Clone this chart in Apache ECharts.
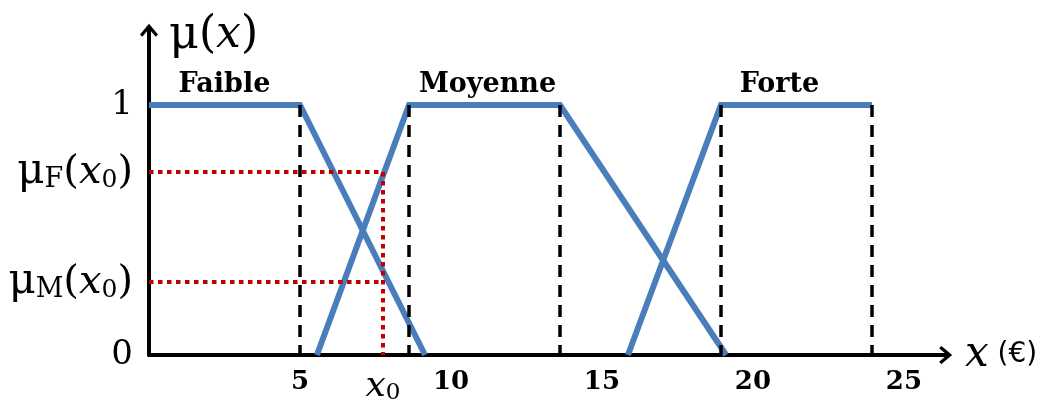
<!DOCTYPE html>
<html>
<head>
<meta charset="utf-8">
<script src="https://cdn.jsdelivr.net/npm/echarts@6/dist/echarts.min.js"></script>
<style>
html, body { margin: 0; padding: 0; background: #fff; }
#main { width: 1054px; height: 401px; }
</style>
</head>
<body>
<div id="main"></div>
<script>
var faibleX = [0, 5, 9.14];
var faibleY = [1, 1, 0];
var moyenneX = [5.56, 8.61, 13.61, 19.11];
var moyenneY = [0, 1, 1, 0];
var forteX = [15.86, 18.94, 23.94];
var forteY = [0, 1, 1];
var setNames = ['Faible', 'Moyenne', 'Forte'];
var dashX = [5, 8.61, 13.61, 18.94, 23.94];
var x0 = 7.75;
var muF = 0.732;
var muM = 0.292;
var xTicks = [5, 10, 15, 20, 25];
var yTicks = [0, muM, muF, 1];
var ySubs = ['', 'M', 'F', ''];

var myChart = echarts.init(document.getElementById('main'));

var blue = '#4a7ebb';
var serif = 'DejaVu Serif';
// fleche ouverte, pointe vers le haut (ECharts la tourne)
var arrow = 'path://M10,0 L20,12 L17.5,14.5 L12,8 L12,16 L8,16 L8,8 L2.5,14.5 L0,12 Z';

function pts(xs, ys) {
  return xs.map(function (x, i) { return [x, ys[i]]; });
}

function plateauMid(xs, ys) {
  var a = null, b = null;
  ys.forEach(function (y, i) {
    if (y === 1) { if (a === null) a = xs[i]; b = xs[i]; }
  });
  return (a + b) / 2;
}

var nameOffsets = [[0, 0], [3, 0], [-17, 0]];

function fuzzySeries(name, xs, ys, idx) {
  return {
    name: name,
    type: 'line',
    data: pts(xs, ys),
    showSymbol: false,
    silent: true,
    z: 2,
    lineStyle: { color: blue, width: 6, cap: 'butt', join: 'miter' },
    markPoint: {
      symbol: 'circle',
      symbolSize: 0,
      silent: true,
      label: {
        show: true,
        position: 'top',
        distance: 7,
        offset: nameOffsets[idx],
        formatter: name,
        color: '#000',
        fontFamily: serif,
        fontWeight: 'bold',
        fontSize: 27
      },
      data: [{ coord: [plateauMid(xs, ys), 1] }]
    }
  };
}

var muRich = {
  n: { fontFamily: serif, fontSize: 34, color: '#000', verticalAlign: 'bottom', lineHeight: 34 },
  mu: { fontFamily: serif, fontSize: 42, color: '#000', verticalAlign: 'bottom', lineHeight: 42 },
  s: { fontFamily: serif, fontSize: 27, color: '#000', verticalAlign: 'bottom', lineHeight: 27 },
  p: { fontFamily: serif, fontSize: 40, color: '#000', verticalAlign: 'bottom', lineHeight: 40 },
  x: { fontFamily: serif, fontSize: 40, fontStyle: 'italic', color: '#000', verticalAlign: 'bottom', lineHeight: 40 },
  o: { fontFamily: serif, fontSize: 25, color: '#000', verticalAlign: 'bottom', lineHeight: 25 }
};

var option = {
  animation: false,
  backgroundColor: '#fff',
  grid: {
    left: 149, right: 109, top: 31, bottom: 46,
    outerBoundsMode: 'none'
  },
  xAxis: {
    type: 'value',
    min: 0,
    max: 26.36,
    splitLine: { show: false },
    axisTick: { show: false },
    axisLine: {
      show: true,
      onZero: false,
      symbol: ['none', arrow],
      symbolSize: [18, 16],
      lineStyle: { color: '#000', width: 4 }
    },
    axisLabel: {
      customValues: xTicks.concat([x0]),
      margin: 14,
      formatter: function (v) {
        if (Math.abs(v - x0) < 1e-6) return '{x|x}{o|0}';
        return '{b|' + v + '}';
      },
      rich: {
        b: { fontFamily: serif, fontWeight: 'bold', fontSize: 26, color: '#000', verticalAlign: 'bottom', lineHeight: 26 },
        x: { fontFamily: serif, fontStyle: 'italic', fontSize: 36, color: '#000', verticalAlign: 'bottom', lineHeight: 36 },
        o: { fontFamily: serif, fontSize: 23, color: '#000', verticalAlign: 'bottom', lineHeight: 23 }
      }
    },
    name: '{x|x}{e| (€)}',
    nameLocation: 'end',
    nameGap: 20,
    nameTextStyle: {
      rich: {
        x: { fontFamily: serif, fontStyle: 'italic', fontSize: 42, color: '#000' },
        e: { fontFamily: 'DejaVu Sans', fontSize: 28, color: '#000' }
      }
    }
  },
  yAxis: {
    type: 'value',
    min: 0,
    max: 1.296,
    splitLine: { show: false },
    axisTick: { show: false },
    axisLine: {
      show: true,
      onZero: false,
      symbol: ['none', arrow],
      symbolSize: [18, 16],
      lineStyle: { color: '#000', width: 4 }
    },
    axisLabel: {
      customValues: yTicks,
      margin: 16,
      formatter: function (v) {
        var i = 0, best = 1e9;
        yTicks.forEach(function (t, k) {
          if (Math.abs(t - v) < best) { best = Math.abs(t - v); i = k; }
        });
        if (ySubs[i] === '') return '{n|' + v + '}';
        return '{mu|μ}{s|' + ySubs[i] + '}{p|(}{x|x}{o|0}{p|)}';
      },
      rich: muRich
    },
    name: '{mu|μ}{p|(}{x|x}{p|)}',
    nameLocation: 'end',
    nameGap: -5,
    nameTextStyle: {
      align: 'left',
      verticalAlign: 'middle',
      padding: [0, 0, 0, 20],
      rich: {
        mu: { fontFamily: serif, fontSize: 46, color: '#000' },
        p: { fontFamily: serif, fontSize: 44, color: '#000' },
        x: { fontFamily: serif, fontSize: 44, fontStyle: 'italic', color: '#000' }
      }
    }
  },
  series: [
    fuzzySeries(setNames[0], faibleX, faibleY, 0),
    fuzzySeries(setNames[1], moyenneX, moyenneY, 1),
    fuzzySeries(setNames[2], forteX, forteY, 2),
    {
      // pointilles noirs verticaux
      type: 'line',
      data: [],
      silent: true,
      z: 3,
      markLine: {
        symbol: 'none',
        silent: true,
        label: { show: false },
        lineStyle: { color: '#000', width: 3.5, type: [12, 8] },
        data: dashX.map(function (x) { return [{ coord: [x, 1] }, { coord: [x, 0] }]; })
      }
    },
    {
      // projections de x0 en rouge
      type: 'line',
      data: [],
      silent: true,
      z: 4,
      markLine: {
        symbol: 'none',
        silent: true,
        label: { show: false },
        lineStyle: { color: '#c00000', width: 4, type: [4.5, 4.5] },
        data: [
          [{ coord: [0, muF] }, { coord: [x0, muF] }],
          [{ coord: [0, muM] }, { coord: [x0, muM] }],
          [{ coord: [x0, muF] }, { coord: [x0, 0] }]
        ]
      }
    }
  ]
};

myChart.setOption(option);
</script>
</body>
</html>
